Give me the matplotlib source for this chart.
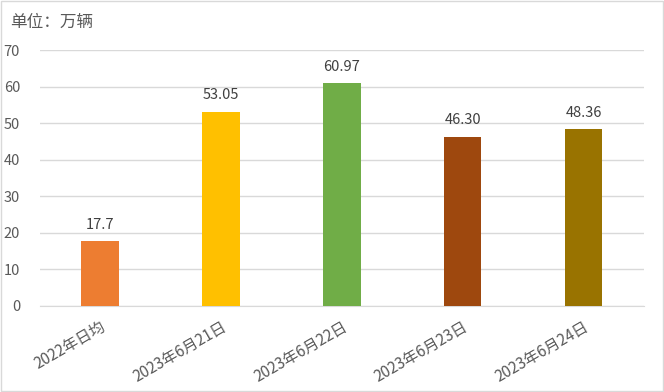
import matplotlib
matplotlib.use("Agg")
import matplotlib.pyplot as plt
from matplotlib.patches import Rectangle

plt.rcParams['font.family'] = ['Noto Sans CJK SC', 'DejaVu Sans']

categories = ["2022年日均", "2023年6月21日", "2023年6月22日", "2023年6月23日", "2023年6月24日"]
values = [17.7, 53.05, 60.97, 46.30, 48.36]
labels = ["17.7", "53.05", "60.97", "46.30", "48.36"]
colors = ["#ED7D31", "#FFC000", "#70AD47", "#9E480E", "#997300"]
yticks = [0, 10, 20, 30, 40, 50, 60, 70]

fig = plt.figure(figsize=(6.64, 3.92), dpi=100)
ax = fig.add_axes([0.0595, 0.2194, 0.9105, 0.653])
x = range(len(categories))
bars = ax.bar(x, values, width=0.31, color=colors, zorder=3)
for xi, v, lab in zip(x, values, labels):
    ax.text(xi, v + 2.6, lab, ha='center', va='bottom', fontsize=10.5, color='#404040')

ax.set_xlim(-0.5, len(categories) - 0.5)
ax.set_ylim(0, 70)
ax.set_yticks(yticks)
ax.set_yticklabels([str(t) for t in yticks], fontsize=10.5, color='#595959')
ax.grid(axis='y', color='#D9D9D9', linewidth=1, zorder=0)
ax.set_xticks(list(x))
ax.set_xticklabels(categories, rotation=30, ha='right', rotation_mode='anchor',
                   fontsize=11, color='#595959')
ax.tick_params(axis='both', length=0)
ax.tick_params(axis='y', pad=14)
ax.tick_params(axis='x', pad=9)
for s in ['top', 'right', 'left']:
    ax.spines[s].set_visible(False)
ax.spines['bottom'].set_color('#D9D9D9')

fig.text(10 / 664, 1 - 22 / 392, "单位：万辆", fontsize=12, color='#595959', va='center', ha='left')
fig.patches.append(Rectangle((0.002, 0.003), 0.996, 0.994, transform=fig.transFigure,
                             fill=False, edgecolor='#D9D9D9', linewidth=1))

fig.savefig("out.png", dpi=100)
